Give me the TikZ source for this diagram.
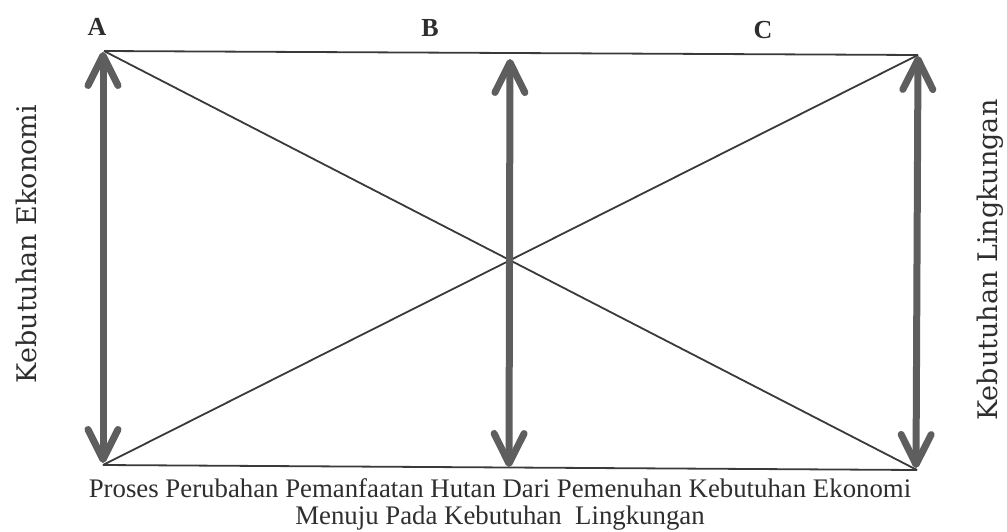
\documentclass[tikz,border=0pt]{standalone}
\usepackage{fontspec}
\setmainfont{Liberation Serif}
\newfontfamily\slabfont{DejaVu Serif}
\usetikzlibrary{arrows.meta}
\definecolor{linegray}{HTML}{3A3A3A}
\definecolor{textgray}{HTML}{2E2E2E}
\definecolor{arrowgray}{HTML}{5E5E5E}
\tikzset{
  edgeline/.style={draw=linegray, line width=1.8pt},
  bigarrow/.style={draw=arrowgray, line width=7pt,
    {Straight Barb[length=30pt,width=30pt,line width=7pt,round]}-{Straight Barb[length=30pt,width=30pt,line width=7pt,round]}},
  cornerlabel/.style={font=\bfseries\fontsize{26}{28}\selectfont, text=textgray},
  sidelabel/.style={font=\slabfont\fontsize{27}{30}\selectfont, text=textgray, rotate=90},
  captionstyle/.style={font=\fontsize{26.8}{27}\selectfont, text=textgray, align=center}
}
\begin{document}
\begin{tikzpicture}[x=1pt,y=-1pt]
\useasboundingbox (0,0) rectangle (1007,531);
% corners
\coordinate (TL) at (104,51);
\coordinate (TR) at (918,55);
\coordinate (BL) at (103,465);
\coordinate (BR) at (917,470);
\coordinate (TM) at (510,59);
\coordinate (BM) at (509,467);
\coordinate (LT) at (103,52);
\coordinate (LB) at (103,463);
\coordinate (RT) at (918,56);
\coordinate (RB) at (916,468);
% frame and diagonals
\draw[edgeline] (TL) -- (TR);
\draw[edgeline] (BL) -- (BR);
\draw[edgeline] (TL) -- (BR);
\draw[edgeline] (BL) -- (TR);
% arrows
\draw[bigarrow] (LT) -- (LB);
\draw[bigarrow] (TM) -- (BM);
\draw[bigarrow] (RT) -- (RB);
% labels
\node[cornerlabel] (A) at (97,27) {A};
\node[cornerlabel] (B) at (430,28) {B};
\node[cornerlabel] (C) at (763,30) {C};
\node[sidelabel] (ek) at (26,244) {Kebutuhan Ekonomi};
\node[sidelabel] (li) at (990,260) {Kebutuhan Lingkungan};
\node[captionstyle] (cap) at (500,504) {Proses Perubahan Pemanfaatan Hutan Dari Pemenuhan Kebutuhan Ekonomi\\Menuju Pada Kebutuhan\ \ Lingkungan};
\end{tikzpicture}
\end{document}
